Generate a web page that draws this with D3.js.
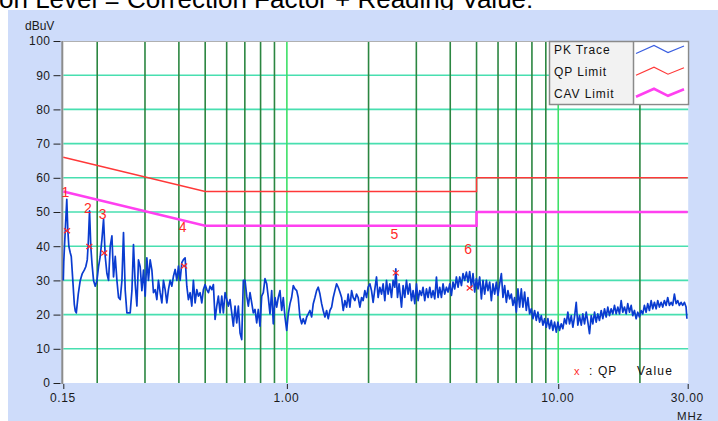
<!DOCTYPE html>
<html><head><meta charset="utf-8">
<script src="https://cdn.jsdelivr.net/npm/d3@7"></script>
<style>
html,body{margin:0;padding:0;background:#fff;}
svg{display:block;font-family:"Liberation Sans",Arial,sans-serif;}
</style></head>
<body><svg id="c" width="718" height="421"></svg>
<script>
// ---------- data ----------
const titleText = "on Level = Correction Factor + Reading Value:";
const yUnit = "dBuV";
const xUnit = "MHz";
const yTicks = [0,10,20,30,40,50,60,70,80,90,100];
const xTickValues = [0.15, 1, 10, 30];
const xTickLabels = ["0.15", "1.00", "10.00", "30.00"];
const gridFreqDark = [0.2,0.3,0.4,0.5,0.6,0.7,0.8,0.9,2,3,4,5,6,7,8,9,20];
const gridFreqBright = [1,10];

const qpLimitFreq  = [0.15, 0.5, 5, 5, 30];
const qpLimitLevel = [66, 56, 56, 60, 60];
const cavLimitFreq  = [0.15, 0.5, 5, 5, 30];
const cavLimitLevel = [56, 46, 46, 50, 50];

const markerLabels = ["1","2","3","4","5","6"];
const markerFreq   = [0.1548, 0.1870, 0.2123, 0.4182, 2.520, 4.718];
const markerLevel  = [44.5, 39.9, 38.0, 34.2, 32.2, 27.8];

const legendNames = ["PK Trace", "QP Limit", "CAV Limit"];

const pkFreq = [
0.1500,0.1506,0.1526,0.1545,0.1558,0.1572,0.1592,0.1605,0.1626,0.1647,0.1661,0.1675,0.1703,0.1732,0.1762,0.1792,0.1815,0.1838,0.1854,0.1874,0.1894,0.1913,0.1939,0.1967,0.1996,0.2023,
0.2052,0.2082,0.2111,0.2141,0.2172,0.2202,
0.2234,0.2266,0.2297,0.2331,0.2364,0.2397,
0.2431,0.2467,0.2500,0.2537,0.2573,
0.2646,0.2685,0.2721,0.2761,0.2801,0.2839,
0.2880,0.2922,0.2962,0.3005,0.3048,0.3090,
0.3135,0.3181,0.3224,0.3271,0.3318,0.3363,
0.3412,0.3462,0.3509,0.3560,0.3611,0.3661,
0.3714,0.3768,0.3819,0.3875,0.3931,0.3985,
0.4042,0.4101,0.4157,0.4217,0.4278,0.4337,
0.4400,0.4464,0.4524,0.4590,0.4657,0.4720,
0.4789,0.4858,0.4925,0.4996,0.5068,0.5138,
0.5212,0.5288,0.5360,0.5438,0.5516,0.5592,
0.5673,0.5755,0.5834,0.5919,0.6004,0.6086,
0.6175,0.6264,0.6350,0.6442,0.6535,0.6625,
0.6721,0.6818,0.6911,0.7012,0.7113,0.7210,
0.7315,0.7421,0.7522,0.7631,0.7742,0.7848,
0.7962,0.8077,0.8187,0.8306,0.8427,0.8542,
0.8666,0.8792,0.8911,0.9041,0.9172,0.9297,
0.9432,0.9569,0.9699,0.9840,0.9983,1.012,
1.027,1.041,1.056,1.071,1.087,1.101,
1.117,1.134,1.149,1.166,1.183,1.199,
1.216,1.234,1.251,1.269,1.287,1.305,
1.324,1.343,1.361,1.381,1.401,1.420,
1.441,1.462,1.482,1.503,1.525,1.546,
1.568,1.591,1.613,1.636,1.660,1.682,
1.707,1.732,1.755,1.781,1.806,1.831,
1.858,1.885,1.910,1.938,1.966,1.993,
2.022,2.051,2.079,2.110,2.140,2.169,
2.201,2.233,2.263,2.296,2.329,2.361,
2.395,2.430,2.463,2.499,2.520,2.557,2.592,
2.645,2.681,2.720,2.759,2.797,
2.838,2.879,2.918,2.961,3.003,3.045,
3.089,3.133,3.176,3.222,3.269,3.314,
3.362,3.410,3.457,3.507,3.558,3.607,
3.659,3.712,3.763,3.817,3.873,3.926,
3.983,4.040,4.095,4.155,4.215,4.273,
4.335,4.398,4.458,4.522,4.588,4.651,
4.718,4.786,4.852,4.922,4.993,5.062,
5.135,5.210,5.281,5.357,5.435,5.509,
5.589,5.670,5.748,5.831,5.915,5.996,
6.083,6.172,6.256,6.347,6.439,6.527,
6.621,6.717,6.809,6.908,7.008,7.104,
7.207,7.311,7.411,7.519,7.628,7.732,
7.844,7.958,8.066,8.183,8.302,8.416,
8.538,8.661,8.780,8.907,9.036,9.160,
9.292,9.427,9.556,9.695,9.835,9.970,
10.11,10.26,10.40,10.55,10.70,10.85,
11.01,11.17,11.32,11.48,11.65,11.81,
11.98,12.16,12.32,12.50,12.68,12.86,
13.04,13.23,13.41,13.61,13.80,13.99,
14.19,14.40,14.60,14.81,15.02,15.23,
15.45,15.67,15.89,16.12,16.35,16.58,
16.82,17.06,17.29,17.54,17.80,18.04,
18.30,18.57,18.82,19.09,19.37,19.64,
19.92,20.21,20.49,20.78,21.08,21.37,
21.68,22.00,22.30,22.62,22.95,23.26,
23.60,23.94,24.27,24.62,24.98,25.32,
25.69,26.06,26.41,26.80,27.19,27.56,
27.96,28.36,28.75,29.17,29.59,29.80
];
const pkLevel = [
30,35.5,45,53.7,45,40,38,37,30,23,21,20.5,26,30,32,33,34,36,41,50.3,40,35,30,28.3,30,34,
37,42,47.9,37,32,30,
40,43,31,37,30,25,
24.4,30,44,27,20.5,
20.5,27,40.5,29,22.5,36,
34,27,33,25.4,36.6,30,
36,33,26.4,27.3,24.4,30,
26.4,23.4,30,27.3,23.4,27.3,
30,28.3,31.2,33.2,30,34.2,
30,35.2,36.1,36.6,28.3,24.4,
26.4,22.5,30,23.4,27.3,25.4,
26.4,23.4,27.3,28.8,27.3,26.4,
28.3,27.3,28.8,18.6,22.5,25.4,
20.5,25.4,20.5,26.4,24.4,22.5,
24.4,20.5,16.6,22.5,17.6,22.5,
14.6,12.7,30,30,25.4,22.5,
26.4,23.4,20.5,21.5,17.6,21.5,
16.6,25.4,26.4,30.5,29,25,
20.2,27,17.3,25,22.2,25,
27,21.2,25,19.3,15.4,20.2,
23.2,25,28.5,27.5,27,25,
19.3,17.3,18.8,17.3,19.3,20.2,
21.2,19.3,23.2,25,27,28,
26,23.2,21.2,19.3,21.2,18.8,
21.2,22.2,25,27,29,28,
26.6,25,21.2,24.1,22.2,26,
22.2,27,25,24.1,26,25,
22.2,25,24.1,27,25,28,
29,27,23.6,27.5,31,25,
28,26,29,24.1,30,26,
29,25,30,28,33.4,25,29,
22.2,28.5,25,30,26,
29,24.1,27,23.2,29,24.1,
27,25.6,28,24.1,27.5,25,
28,25,27,24.6,31,25,
28,25,29,26,28,26.6,
29,25.6,29.5,27.5,31,28,
31,28.5,32,30,32.4,29.5,
32.6,28,32,26.6,30.5,27.5,
31,24.6,30,26,30,27,
29.5,24.1,29,26,29.5,25.6,
29,32,25,28.5,23.6,27,
24.6,26,22.7,25,20.7,27.5,
22.2,27.5,22.2,26.6,21.2,25,
20.2,21.7,18.8,21.2,18.3,20.7,
17.8,19.7,16.9,18.8,16.3,18.8,
15.9,18.3,15.4,17.8,14.9,17.8,
15.4,17.3,15.9,18.8,17.3,20.7,
17.3,19.7,16.3,19.3,23.6,16.9,
19.7,16.9,20.2,17.3,20.7,17.8,
14.4,19.7,17.3,20.7,17.8,20.2,
18.3,21.2,18.8,21.7,19.3,22.2,
19.7,21.7,20.2,22.7,20.2,22.2,
20.2,24.1,20.7,22.2,20.2,23.2,
20.7,22.7,19.7,21.2,18.8,20.7,
19.3,21.2,20.2,22.7,20.7,23.2,
21.2,24.1,21.7,23.6,21.7,24.1,
22.2,23.6,22.2,24.1,22.7,25,
22.7,23.6,22.7,26,23.2,24.1,
22.7,23.6,22.7,23.6,22.2,18.8
];

// ---------- drawing ----------
const svg = d3.select("#c");
const W = 718, H = 421;
const plot = {l: 63.3, r: 687.7, t: 41, b: 383};

const x = d3.scaleLog().domain([0.15, 30]).range([plot.l, plot.r]);
const y = d3.scaleLinear().domain([0, 100]).range([plot.b, plot.t]);

// page title (cut off at the top, as in the source page)
svg.append("text").attr("x", -1).attr("y", 7.5)
  .attr("font-size", 26).attr("fill", "#000").text(titleText);

// blue frame
svg.append("rect").attr("x", 8).attr("y", 10).attr("width", W - 8).attr("height", H - 10)
  .attr("fill", "#cedcfa");

// plot area
svg.append("rect").attr("x", plot.l - 1).attr("y", plot.t)
  .attr("width", plot.r - plot.l + 1.5).attr("height", plot.b - plot.t)
  .attr("fill", "#fff");

// horizontal grid
svg.append("g").selectAll("line").data(yTicks.filter(v => v > 0 && v < 100)).join("line")
  .attr("x1", plot.l).attr("x2", plot.r + 0.5)
  .attr("y1", d => y(d)).attr("y2", d => y(d))
  .attr("stroke", "#48dfb0").attr("stroke-width", 1.6);

// vertical grid
svg.append("g").selectAll("line").data(gridFreqDark).join("line")
  .attr("x1", d => x(d)).attr("x2", d => x(d))
  .attr("y1", plot.t).attr("y2", plot.b)
  .attr("stroke", "#2b8641").attr("stroke-width", 1.6);
svg.append("g").selectAll("line").data(gridFreqBright).join("line")
  .attr("x1", d => x(d)).attr("x2", d => x(d))
  .attr("y1", plot.t).attr("y2", plot.b)
  .attr("stroke", "#3ee068").attr("stroke-width", 1.6);

// top border
svg.append("line").attr("x1", plot.l).attr("x2", plot.r).attr("y1", plot.t + 0.5).attr("y2", plot.t + 0.5)
  .attr("stroke", "#b0b0b0").attr("stroke-width", 1);
// left axis line
svg.append("line").attr("x1", plot.l - 1).attr("x2", plot.l - 1).attr("y1", plot.t).attr("y2", plot.b + 1)
  .attr("stroke", "#8c8c8c").attr("stroke-width", 2);

// y axis
const yAxis = d3.axisLeft(y).tickValues(yTicks).tickSize(7).tickPadding(3).tickFormat(d3.format("d"));
const gy = svg.append("g").attr("transform", "translate(60.5,0)").call(yAxis);
gy.select(".domain").remove();
gy.selectAll(".tick line").attr("stroke", "#222");
gy.selectAll(".tick text").attr("font-size", 12).attr("fill", "#1a1a1a")
  .attr("font-family", "Liberation Sans, Arial, sans-serif").attr("letter-spacing", 0.5);

// x axis
const xAxis = d3.axisBottom(x).tickValues(xTickValues).tickSize(5).tickPadding(4)
  .tickFormat((d, i) => xTickLabels[i]);
const gx = svg.append("g").attr("transform", `translate(0,${plot.b + 1})`).call(xAxis);
gx.select(".domain").remove();
gx.selectAll(".tick line").attr("stroke", "#222");
gx.selectAll(".tick text").attr("font-size", 12).attr("fill", "#1a1a1a").attr("dx", -1)
  .attr("font-family", "Liberation Sans, Arial, sans-serif").attr("letter-spacing", 0.6);

// unit labels
svg.append("text").attr("x", 25).attr("y", 29.5).attr("font-size", 12).attr("fill", "#1a1a1a").text(yUnit);
svg.append("text").attr("x", 677).attr("y", 419.5).attr("font-size", 11.5).attr("fill", "#1a1a1a")
  .attr("letter-spacing", 0.8).text(xUnit);

// limits
const lineGen = d3.line().x(d => x(d[0])).y(d => y(d[1]));
svg.append("path").datum(d3.zip(qpLimitFreq, qpLimitLevel)).attr("d", lineGen)
  .attr("fill", "none").attr("stroke", "#ff3838").attr("stroke-width", 1.4);
svg.append("path").datum(d3.zip(cavLimitFreq, cavLimitLevel)).attr("d", lineGen)
  .attr("fill", "none").attr("stroke", "#ff40f0").attr("stroke-width", 2.6);

// PK trace
svg.append("path").datum(d3.zip(pkFreq, pkLevel)).attr("d", lineGen)
  .attr("fill", "none").attr("stroke", "#0a3cd0").attr("stroke-width", 1.7)
  .attr("stroke-linejoin", "round");

// QP markers
const markers = d3.zip(markerFreq, markerLevel, markerLabels);
const mg = svg.append("g");
mg.selectAll("path").data(markers).join("path")
  .attr("d", d => {
    const cx = x(d[0]), cy = y(d[1]);
    return `M${cx-3},${cy-2.5}L${cx+3},${cy+2.5}M${cx-3},${cy+2.5}L${cx+3},${cy-2.5}`;
  })
  .attr("stroke", "#ff2a2a").attr("stroke-width", 1.2).attr("fill", "none");
mg.selectAll("text").data(markers).join("text")
  .attr("x", d => x(d[0]) - 1.5).attr("y", d => y(d[1]) - 34)
  .attr("text-anchor", "middle").attr("font-size", 14).attr("fill", "#ff2a2a")
  .text(d => d[2]);

// legend box
const lg = svg.append("g");
lg.append("rect").attr("x", 549.5).attr("y", 41.5).attr("width", 139).attr("height", 63)
  .attr("fill", "#f2f2f2").attr("stroke", "#8a8a8a").attr("stroke-width", 1.5);
lg.append("rect").attr("x", 633.5).attr("y", 42.5).attr("width", 54).attr("height", 61)
  .attr("fill", "#fff");
lg.append("line").attr("x1", 633.5).attr("x2", 633.5).attr("y1", 41.5).attr("y2", 104.5)
  .attr("stroke", "#8a8a8a").attr("stroke-width", 1.5);
const legendColors = ["#3a5ee0", "#ff3838", "#ff40f0"];
const legendWidths = [1.2, 1.2, 2.6];
const legendRows = [50, 71.7, 93.3];
legendNames.forEach((name, i) => {
  lg.append("text").attr("x", 554).attr("y", legendRows[i] + 4.3).attr("font-size", 12)
    .attr("letter-spacing", 0.9).attr("fill", "#111").text(name);
  const cy = legendRows[i];
  lg.append("path")
    .attr("d", `M636,${cy+3.5}L654,${cy-4.5}L668,${cy+2.5}L684,${cy-4}`)
    .attr("fill", "none").attr("stroke", legendColors[i]).attr("stroke-width", legendWidths[i]);
});

// "x : QP  Value" note
const ng = svg.append("g").attr("font-size", 12).attr("fill", "#111");
ng.append("text").attr("x", 574).attr("y", 375).attr("fill", "#ff2a2a").attr("font-size", 11).text("x");
ng.append("text").attr("x", 589).attr("y", 375).text(":");
ng.append("text").attr("x", 598).attr("y", 375).attr("letter-spacing", 1).text("QP");
ng.append("text").attr("x", 637).attr("y", 375).attr("letter-spacing", 1.3).text("Value");
</script>
</body></html>
